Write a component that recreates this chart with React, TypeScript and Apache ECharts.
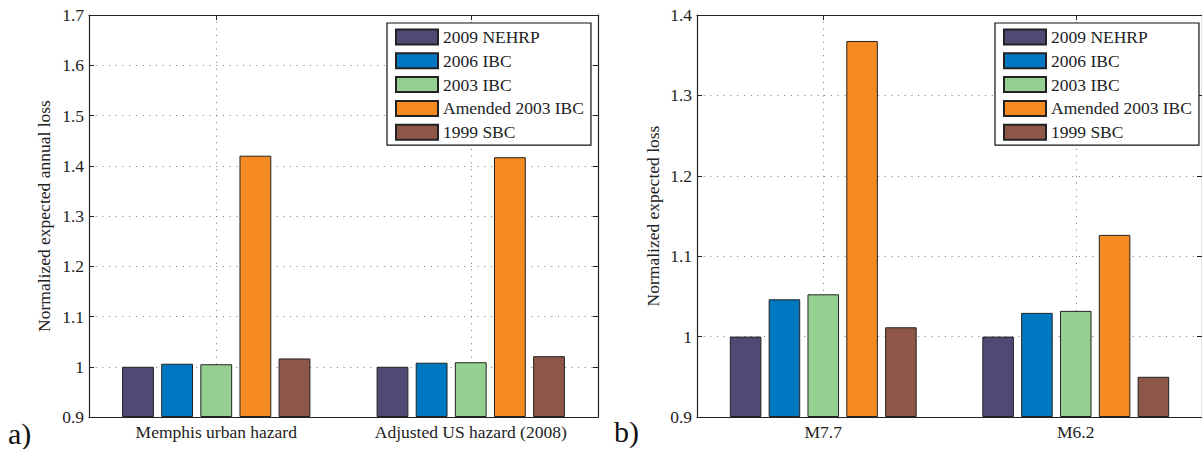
import React, { useEffect, useRef } from "react";
import * as echarts from "echarts";

const seriesNames = ["2009 NEHRP", "2006 IBC", "2003 IBC", "Amended 2003 IBC", "1999 SBC"];
const seriesColors = ["#4E4975", "#0078C1", "#95D091", "#F58A22", "#8E5646"];

const categoriesA = ["Memphis urban hazard", "Adjusted US hazard (2008)"];
const nehrp2009A = [1.0, 1.0];
const ibc2006A = [1.006, 1.008];
const ibc2003A = [1.005, 1.009];
const amended2003A = [1.42, 1.417];
const sbc1999A = [1.0165, 1.021];

const categoriesB = ["M7.7", "M6.2"];
const nehrp2009B = [1.0, 1.0];
const ibc2006B = [1.0464, 1.0295];
const ibc2003B = [1.0526, 1.032];
const amended2003B = [1.3677, 1.1265];
const sbc1999B = [1.0116, 0.95];

const yMinA = 0.9, yMaxA = 1.7;
const yMinB = 0.9, yMaxB = 1.4;
const yInterval = 0.1;

const FONT = "'Liberation Serif', 'Times New Roman', serif";

export default function App() {
  const ref = useRef<HTMLDivElement>(null);
  useEffect(() => {
    if (!ref.current) return;
    const chart = echarts.init(ref.current, undefined, { renderer: "svg" });
    const dataA = [nehrp2009A, ibc2006A, ibc2003A, amended2003A, sbc1999A];
    const dataB = [nehrp2009B, ibc2006B, ibc2003B, amended2003B, sbc1999B];

    const dotted = { color: "#777", width: 1, type: [1, 5.7] as any };
    const axisLineStyle = { color: "#222", width: 1.2 };

    const makeX = (grid: number, cats: string[]) => [
      {
        type: "category", gridIndex: grid, position: "bottom", data: cats,
        axisLine: { show: true, lineStyle: axisLineStyle },
        axisTick: { show: true, inside: true, length: 5, alignWithLabel: true, lineStyle: { color: "#222" } },
        axisLabel: { show: true, fontFamily: FONT, fontSize: 17.5, color: "#222", margin: 6 },
        splitLine: { show: true, alignWithLabel: true, lineStyle: dotted },
      },
      {
        type: "category", gridIndex: grid, position: "top", data: cats,
        axisLine: { show: true, lineStyle: axisLineStyle },
        axisTick: { show: true, inside: true, length: 5, alignWithLabel: true, lineStyle: { color: "#222" } },
        axisLabel: { show: false },
        splitLine: { show: false },
      },
    ];
    const makeY = (grid: number, min: number, max: number, name: string, gap: number) => [
      {
        type: "value", gridIndex: grid, position: "left", min, max, interval: yInterval, startValue: min,
        name, nameLocation: "middle", nameGap: gap, nameRotate: 90,
        nameTextStyle: { fontFamily: FONT, fontSize: 17.5, color: "#222" },
        axisLine: { show: true, lineStyle: axisLineStyle },
        axisTick: { show: true, inside: true, length: 5, lineStyle: { color: "#222" } },
        axisLabel: { show: true, fontFamily: FONT, fontSize: 17.5, color: "#222", margin: 5 },
        splitLine: { show: true, lineStyle: dotted },
      },
      {
        type: "value", gridIndex: grid, position: "right", min, max, interval: yInterval, startValue: min,
        axisLine: { show: true, lineStyle: axisLineStyle },
        axisTick: { show: true, inside: true, length: 5, lineStyle: { color: "#222" } },
        axisLabel: { show: false },
        splitLine: { show: false },
      },
    ];

    const makeSeries = (data: number[][], xi: number, yi: number) =>
      data.map((d, i) => ({
        type: "bar", name: seriesNames[i], xAxisIndex: xi, yAxisIndex: yi, data: d,
        barWidth: "12.5%", barGap: "23%", clip: true,
        itemStyle: { color: seriesColors[i], borderColor: "#222", borderWidth: 1 },
      }));

    const legendBase = {
      orient: "vertical", top: 23, itemWidth: 42, itemHeight: 15, itemGap: 5.8,
      padding: [5, 7, 4, 8], borderColor: "#111", borderWidth: 1.2, backgroundColor: "#fff",
      icon: "rect", selectedMode: false, data: seriesNames,
      textStyle: { fontFamily: FONT, fontSize: 17.5, color: "#222", lineHeight: 15 },
    };

    chart.setOption({
      animation: false,
      backgroundColor: "#fff",
      grid: [
        { left: 89, top: 15, width: 509, height: 402 },
        { left: 697, top: 15, width: 509, height: 402 },
      ],
      xAxis: [...makeX(0, categoriesA), ...makeX(1, categoriesB)],
      yAxis: [
        ...makeY(0, yMinA, yMaxA, "Normalized expected annual loss", 36),
        ...makeY(1, yMinB, yMaxB, "Normalized expected loss", 35),
      ],
      legend: [
        { ...legendBase, left: 387 },
        { ...legendBase, left: 995 },
      ],
      series: [...makeSeries(dataA, 0, 0), ...makeSeries(dataB, 2, 2)],
      graphic: [
        { type: "text", left: 8, top: 418, style: { text: "a)", fontFamily: FONT, fontSize: 30, fill: "#111" } },
        { type: "text", left: 614, top: 416, style: { text: "b)", fontFamily: FONT, fontSize: 30, fill: "#111" } },
      ],
    });
    return () => chart.dispose();
  }, []);
  return (
    <div
      ref={ref}
      style={{ position: "fixed", left: 0, top: 0, width: 1202, height: 449, background: "#fff" }}
    />
  );
}
